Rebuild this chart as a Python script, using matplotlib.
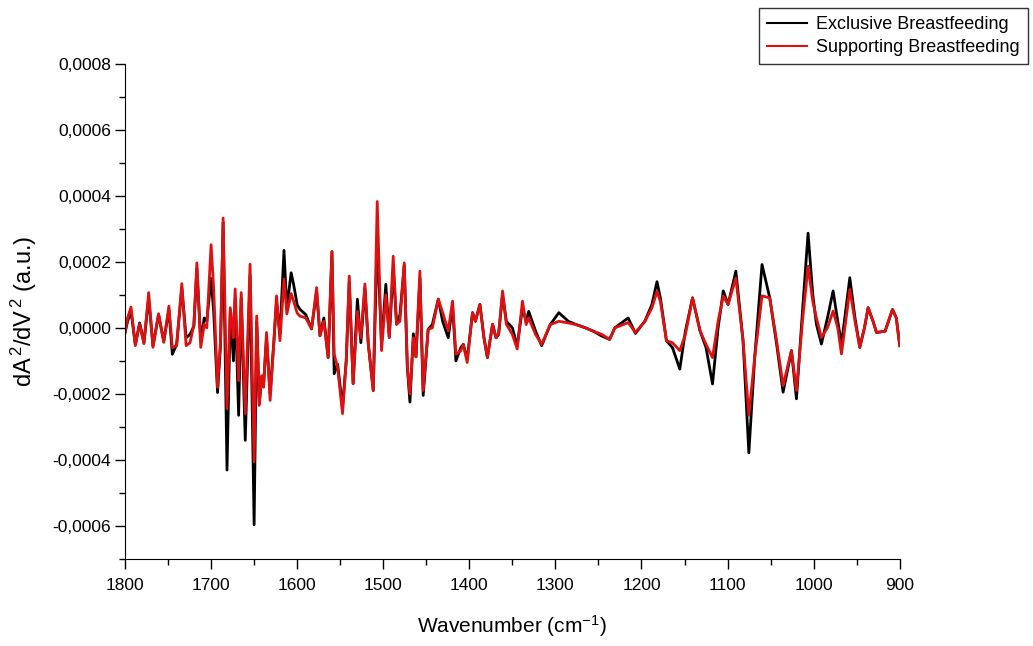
import matplotlib
matplotlib.use("Agg")
import matplotlib.pyplot as plt
import numpy as np
from matplotlib.ticker import MultipleLocator, FuncFormatter

# wavenumber (cm-1) and second derivative values (x 1e-4)
wavenumber = [1800, 1797, 1793, 1788, 1783, 1778, 1772.5, 1767.5, 1761, 1755,
              1749, 1745, 1740, 1734, 1729, 1724.5, 1720, 1716.5, 1712, 1708,
              1705, 1700, 1697, 1692.5, 1689, 1686, 1681.5, 1677.7, 1674, 1672,
              1668, 1665, 1660.3, 1654.7, 1650, 1647, 1644, 1641.3, 1639, 1635.6,
              1631.4, 1627, 1624, 1620, 1615.3, 1612, 1607, 1604, 1600, 1597,
              1590, 1583.3, 1577.4, 1573.5, 1569, 1564, 1559.6, 1557, 1553, 1547.3,
              1543, 1539.5, 1535, 1530, 1526, 1521.3, 1517.4, 1511.6, 1507, 1502,
              1497, 1493, 1488.4, 1484.5, 1480.6, 1475.6, 1472, 1469, 1465, 1462,
              1457.4, 1453.6, 1447.8, 1443, 1436, 1431, 1424.5, 1419.5, 1415.6, 1410,
              1407, 1402.5, 1396.3, 1393, 1387.7, 1383, 1379, 1373, 1369, 1366,
              1361.4, 1357, 1350, 1344.4, 1338.3, 1334, 1331, 1323, 1316, 1306,
              1296, 1285, 1276, 1265, 1256, 1246, 1237, 1231, 1215.5, 1207,
              1196, 1188, 1182, 1178, 1171, 1164, 1155.5, 1149, 1140.7, 1132,
              1125, 1117.5, 1111, 1105, 1099.4, 1090.4, 1082, 1075.3, 1068.5, 1060,
              1051, 1043, 1035.5, 1025.8, 1020, 1013, 1006.5, 1001, 996.8, 991,
              984, 977.4, 972, 967.7, 958, 952, 946.4, 941, 936.7, 931,
              927, 917, 908.4, 904, 900]

exclusive = [-0.15, 0.2, 0.5, -0.5, 0.15, -0.45, 0.9, -0.55, 0.4, -0.4,
             0.55, -0.8, -0.5, 1.2, -0.3, -0.2, 0.05, 1.8, -0.4, 0.3,
             0.2, 1.5, 0.5, -1.96, -0.5, 3.2, -4.31, 0.5, -1.0, 0.9,
             -2.65, 0.9, -3.41, 1.6, -5.97, 0.2, -2.3, -1.5, -1.7, -0.3,
             -2.0, -0.4, 0.8, -0.2, 2.35, 0.6, 1.67, 1.3, 0.7, 0.57,
             0.4, -0.03, 1.1, -0.24, 0.3, -0.9, 2.3, -1.39, -1.1, -2.4,
             -1.0, 1.4, -1.69, 0.87, -0.45, 1.2, -0.48, -1.9, 2.72, -0.5,
             1.32, -0.29, 1.8, 0.11, 0.4, 1.9, -1.2, -2.25, -0.18, -0.88,
             1.5, -2.05, -0.04, 0.1, 0.87, 0.2, -0.3, 0.7, -1.0, -0.6,
             -0.5, -0.95, 0.46, 0.2, 0.71, -0.3, -0.9, 0.11, -0.3, -0.2,
             1.0, 0.2, 0.0, -0.55, 0.6, 0.2, 0.5, -0.1, -0.54, 0.1,
             0.46, 0.2, 0.1, 0.0, -0.1, -0.25, -0.35, 0.0, 0.3, -0.17,
             0.21, 0.7, 1.4, 0.9, -0.39, -0.6, -1.25, -0.1, 0.91, -0.09,
             -0.6, -1.7, 0.0, 1.12, 0.71, 1.72, -0.39, -3.79, -0.9, 1.92,
             0.91, -0.5, -1.95, -0.69, -2.15, 0.5, 2.87, 1.0, 0.11, -0.49,
             0.3, 1.12, 0.2, -0.49, 1.52, 0.3, -0.59, 0.0, 0.61, 0.2,
             -0.14, -0.1, 0.56, 0.3, -0.54]

supporting = [-0.15, 0.3, 0.63, -0.54, 0.12, -0.48, 1.07, -0.59, 0.43, -0.44,
              0.66, -0.6, -0.54, 1.34, -0.54, -0.45, 0.09, 1.97, -0.59, 0.1,
              0.0, 2.52, 1.2, -1.8, -0.4, 3.33, -2.45, 0.61, -0.3, 1.18,
              -1.6, 1.07, -2.6, 1.93, -4.06, 0.36, -2.35, -1.45, -1.8, -0.14,
              -2.2, -0.39, 0.97, -0.39, 1.48, 0.42, 1.04, 0.8, 0.45, 0.36,
              0.3, -0.03, 1.22, -0.24, 0.2, -0.9, 2.32, -0.8, -1.2, -2.6,
              -1.0, 1.57, -1.69, 0.5, -0.3, 1.33, -0.48, -1.9, 3.83, -0.69,
              1.0, -0.29, 2.17, 0.11, 0.2, 1.97, -1.2, -2.0, -0.3, -0.88,
              1.72, -1.9, -0.04, 0.0, 0.87, 0.46, -0.09, 0.81, -0.8, -0.7,
              -0.5, -1.05, 0.46, 0.2, 0.71, -0.3, -0.9, 0.11, -0.3, -0.2,
              1.12, 0.11, -0.2, -0.64, 0.81, 0.1, 0.3, -0.2, -0.5, 0.1,
              0.2, 0.15, 0.1, 0.0, -0.1, -0.2, -0.35, 0.0, 0.16, -0.14,
              0.2, 0.6, 1.1, 0.8, -0.39, -0.45, -0.69, -0.2, 0.91, -0.09,
              -0.5, -0.9, 0.2, 0.96, 0.71, 1.51, -0.39, -2.65, -0.9, 0.97,
              0.91, -0.4, -1.75, -0.69, -1.9, 0.2, 1.87, 0.8, 0.3, -0.29,
              0.0, 0.51, 0.0, -0.79, 1.16, 0.2, -0.59, 0.0, 0.61, 0.2,
              -0.14, -0.1, 0.56, 0.3, -0.54]

plt.rcParams['font.family'] = ['Liberation Sans', 'DejaVu Sans']
plt.rcParams['mathtext.fontset'] = 'custom'
plt.rcParams['mathtext.rm'] = 'Liberation Sans'
plt.rcParams['mathtext.it'] = 'Liberation Sans'

fig = plt.figure(figsize=(10.33, 6.46), dpi=100)
ax = fig.add_axes([0.121, 0.135, 0.750, 0.766])

x = np.array(wavenumber)
ax.plot(x, np.array(exclusive) * 1e-4, color='black', lw=2.0, label='Exclusive Breastfeeding')
ax.plot(x, np.array(supporting) * 1e-4, color='#e01010', lw=2.0, label='Supporting Breastfeeding')

ax.set_xlim(1800, 900)
ax.set_ylim(-0.0007, 0.0008)
ax.spines['top'].set_visible(False)
ax.spines['right'].set_visible(False)
ax.xaxis.set_major_locator(MultipleLocator(100))
ax.xaxis.set_minor_locator(MultipleLocator(50))
ax.yaxis.set_major_locator(MultipleLocator(0.0002))
ax.yaxis.set_minor_locator(MultipleLocator(0.0001))
ax.yaxis.set_major_formatter(FuncFormatter(lambda v, p: ('%.4f' % v).replace('.', ',').replace('-0,0000', '0,0000')))
ax.xaxis.set_major_formatter(FuncFormatter(lambda v, p: '%d' % v))
ax.tick_params(which='major', direction='out', length=7, width=1, labelsize=12.5)
ax.tick_params(which='minor', direction='out', length=4, width=1)
ax.tick_params(axis='x', pad=7)
ax.tick_params(axis='y', pad=3)

ax.set_xlabel(r'Wavenumber (cm$^{-1}$)', fontsize=15, labelpad=14)
ax.set_ylabel(r'dA$^{\,2}$/dV$^{\,2}$ (a.u.)', fontsize=17, labelpad=10)

leg = fig.legend(loc='upper right', bbox_to_anchor=(0.995, 0.988), prop={'size': 13},
                 frameon=True, fancybox=False, edgecolor='black', handlelength=2.2,
                 borderpad=0.45, labelspacing=0.35, handletextpad=0.5, borderaxespad=0)
leg.get_frame().set_linewidth(1)
for line in leg.get_lines():
    line.set_linewidth(1.5)

fig.savefig('out.png', dpi=100)
